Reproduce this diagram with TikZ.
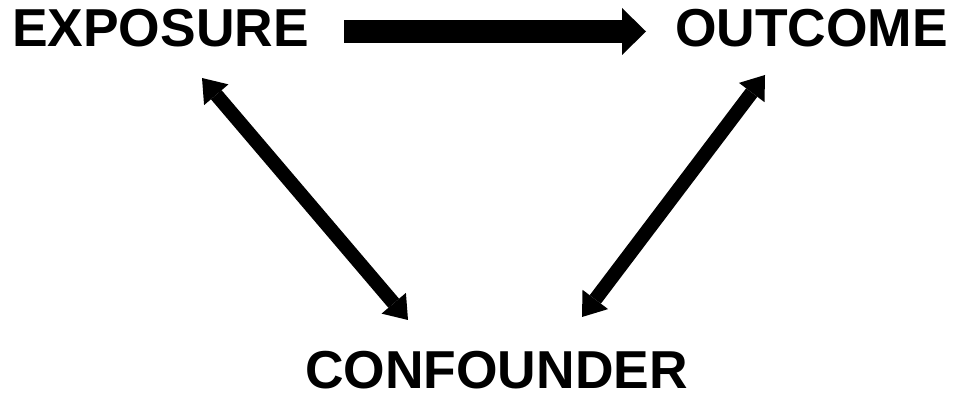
\documentclass[tikz,border=0pt]{standalone}
\usepackage{fontspec}
\setmainfont{Liberation Sans}
\usepackage{tikz}
\usetikzlibrary{arrows.meta}

\begin{document}
\begin{tikzpicture}[
    x=1pt, y=1pt,
    var/.style={inner sep=0pt, font=\fontsize{53.4}{60}\selectfont\bfseries},
    line/.style={draw, line width=23pt, -{Triangle[length=24pt, width=47pt, line width=0pt]}},
    bline/.style={draw, line width=14pt, {Triangle[length=22pt, width=32pt, line width=0pt]}-{Triangle[length=22pt, width=32pt, line width=0pt]}}
]
    \useasboundingbox (0,0) rectangle (957,398);
    % Nodes
    \node[var] (expo) at (160.5,370) {EXPOSURE};
    \node[var] (outc) at (811.5,370) {OUTCOME};
    \node[var] (conf) at (496.5,27.5) {CONFOUNDER};

    % Connections
    \draw[line] ([shift={(183.5,-3.5)}]expo.center) -- ([shift={(-165.5,-3.5)}]outc.center);
    \draw[bline] ([shift={(41.5,-50)}]expo.center) -- ([shift={(-88.5,50.5)}]conf.center);
    \draw[bline] ([shift={(85.5,53.5)}]conf.center) -- ([shift={(-46.5,-47)}]outc.center);
\end{tikzpicture}
\end{document}
